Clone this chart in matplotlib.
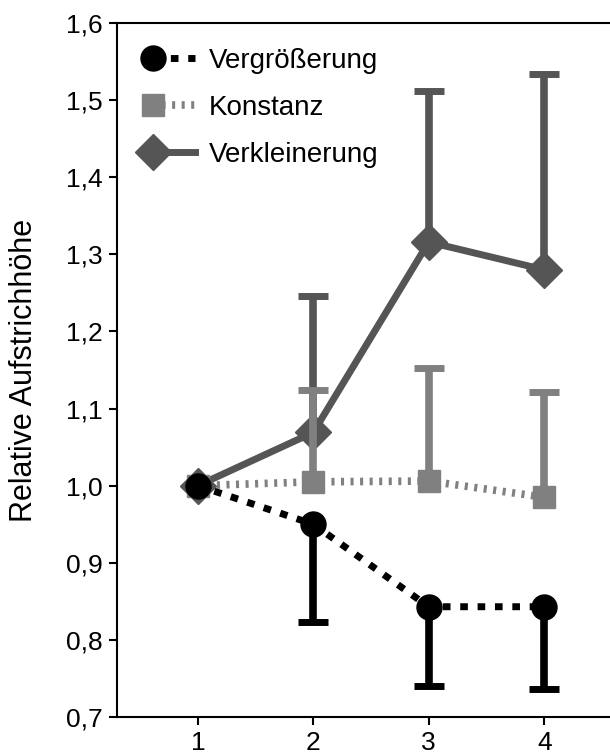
import numpy as np
import matplotlib
matplotlib.use("Agg")
import matplotlib.pyplot as plt
from matplotlib.legend_handler import HandlerLine2DCompound
from matplotlib.ticker import FuncFormatter

plt.rcParams['font.family'] = ['Liberation Sans', 'DejaVu Sans']

# data
x = [1, 2, 3, 4]
groesser = [1.0, 0.950, 0.843, 0.843]
groesser_lo = [1.0, 0.823, 0.740, 0.736]
konstanz = [1.0, 1.005, 1.006, 0.985]
konstanz_hi = [1.0, 1.124, 1.152, 1.121]
kleiner = [1.0, 1.069, 1.316, 1.280]
kleiner_hi = [1.0, 1.246, 1.512, 1.534]
labels = ["Vergrößerung", "Konstanz", "Verkleinerung"]

BLACK = "#000000"
LIGHT = "#808080"
DARK = "#555555"


class MarkerLeft(HandlerLine2DCompound):
    """legend handle with the marker on the left end of the line"""
    def get_xdata(self, legend, xdescent, ydescent, width, height, fontsize):
        xdata = np.array([-xdescent + 0.25 * width, -xdescent + width])
        xmark = np.array([-xdescent + 0.25 * width])
        return xdata, xmark


def one_sided(ax, xs, ys, ends, color, z):
    # vertical bar with a cap only at the far end, skip the first point
    ax.vlines(xs[1:], ys[1:], ends[1:], color=color, lw=5.5, zorder=z)
    ax.plot(xs[1:], ends[1:], ls='none', marker='_', ms=22, mew=5,
            color=color, zorder=z)


fig = plt.figure(figsize=(6.10, 7.54), dpi=100)
ax = fig.add_axes([117 / 610, 37 / 754, 1 - 117 / 610, 694 / 754])

one_sided(ax, x, kleiner, kleiner_hi, DARK, 2)
l3, = ax.plot(x, kleiner, color=DARK, lw=5, marker='D', ms=18,
              solid_joinstyle='miter', zorder=3)
one_sided(ax, x, konstanz, konstanz_hi, LIGHT, 4)
l2, = ax.plot(x, konstanz, color=LIGHT, lw=5.5, marker='s', ms=16,
              dashes=(0.4, 0.85), dash_capstyle='butt', zorder=5)
one_sided(ax, x, groesser, groesser_lo, BLACK, 6)
l1, = ax.plot(x, groesser, color=BLACK, lw=5, marker='o', ms=18,
              dashes=(1.1, 1.4), dash_capstyle='butt', zorder=7)

ax.set_xlim(0.3, 4.57)
ax.set_ylim(0.7, 1.6)
ax.set_xticks(x)
ax.set_yticks(np.arange(0.7, 1.61, 0.1))
ax.yaxis.set_major_formatter(FuncFormatter(lambda v, p: ("%.1f" % v).replace('.', ',')))
ax.tick_params(direction='out', length=6, width=1.5, labelsize=19, pad=4)
for side in ['left', 'bottom', 'top']:
    ax.spines[side].set_linewidth(1.5)
ax.spines['right'].set_visible(False)
ax.set_ylabel("Relative Aufstrichhöhe", fontsize=22, labelpad=20)

hm = MarkerLeft()
ax.legend([l1, l2, l3], labels, handler_map={l1: hm, l2: hm, l3: hm},
          loc='upper left', bbox_to_anchor=(139 / 610, 1 - 48 / 754),
          bbox_transform=fig.transFigure, frameon=False, fontsize=20,
          borderpad=0, borderaxespad=0, handlelength=2.0,
          handletextpad=0.5, labelspacing=0.76)

fig.savefig("out.png", dpi=100)
